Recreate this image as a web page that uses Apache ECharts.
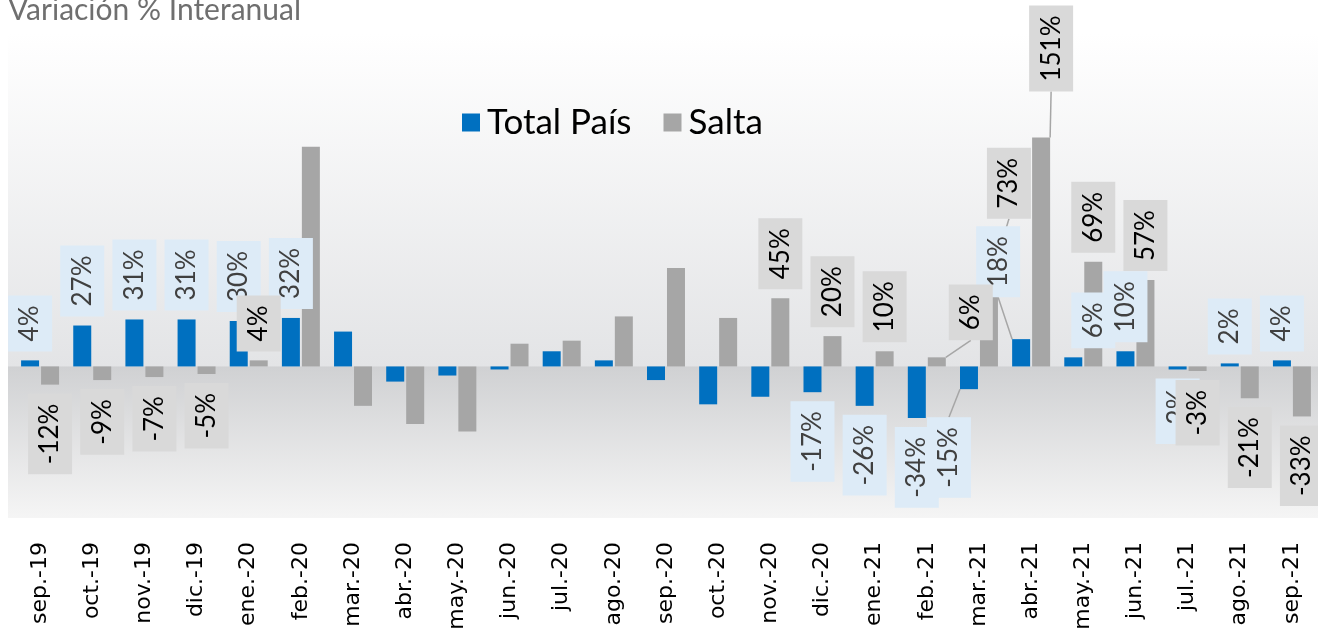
<!DOCTYPE html>
<html>
<head>
<meta charset="utf-8">
<script src="https://cdn.jsdelivr.net/npm/echarts@6/dist/echarts.min.js"></script>
<style>
    html, body { margin: 0; padding: 0; background: #fff; }
    #chart { width: 1318px; height: 635px; }
</style>
</head>
<body>
<div id="chart"></div>
<script>
var months = ['sep.-19', 'oct.-19', 'nov.-19', 'dic.-19', 'ene.-20', 'feb.-20', 'mar.-20', 'abr.-20',
    'may.-20', 'jun.-20', 'jul.-20', 'ago.-20', 'sep.-20', 'oct.-20', 'nov.-20', 'dic.-20',
    'ene.-21', 'feb.-21', 'mar.-21', 'abr.-21', 'may.-21', 'jun.-21', 'jul.-21', 'ago.-21', 'sep.-21'];

var totalPais = [4, 27, 31, 31, 30, 32, 23, -10, -6, -2, 10, 4, -9, -25, -20, -17,
    -26, -34, -15, 18, 6, 10, -2, 2, 4];
var salta = [-12, -9, -7, -5, 4, 145, -26, -38, -43, 15, 17, 33, 65, 32, 45, 20,
    10, 6, 73, 151, 69, 57, -3, -21, -33];

// months whose value is printed on the chart
var totalLabeled = ['sep.-19', 'oct.-19', 'nov.-19', 'dic.-19', 'ene.-20', 'feb.-20',
    'dic.-20', 'ene.-21', 'feb.-21', 'mar.-21', 'abr.-21', 'may.-21', 'jun.-21', 'jul.-21', 'ago.-21', 'sep.-21'];
var saltaLabeled = ['sep.-19', 'oct.-19', 'nov.-19', 'dic.-19', 'ene.-20',
    'nov.-20', 'dic.-20', 'ene.-21', 'feb.-21', 'mar.-21', 'abr.-21', 'may.-21', 'jun.-21', 'jul.-21', 'ago.-21', 'sep.-21'];

// labels moved by hand in the original: screen shift [right, down] and leader line
var moved = {
    0: { 'mar.-21': [-20, 19, true], 'abr.-21': [-23, -33, true], 'may.-21': [20, 0, false] },
    1: { 'feb.-21': [34, -8, true], 'mar.-21': [20, -28, true], 'abr.-21': [10, -37, true] }
};

function buildData(values, shown, seriesIdx) {
    return values.map(function (v, i) {
        var up = v >= 0;
        var m = moved[seriesIdx][months[i]];
        return {
            value: v,
            label: {
                show: shown.indexOf(months[i]) >= 0,
                position: up ? 'top' : 'bottom',
                align: up ? 'left' : 'right'
            },
            labelLine: { show: !!(m && m[2]) }
        };
    });
}

var labelBase = {
    rotate: 90,
    verticalAlign: 'middle',
    distance: 9,
    fontSize: 26,
    fontFamily: 'Lato',
    padding: [9, 10],
    formatter: '{c}%'
};

var chart = echarts.init(document.getElementById('chart'));

var option = {
    animation: false,
    graphic: [
        {
            type: 'rect',
            z: -10,
            shape: { x: 8, y: 33, width: 1310, height: 485 },
            style: {
                fill: new echarts.graphic.LinearGradient(0, 0, 0, 1, [
                    { offset: 0, color: '#FFFFFF' },
                    { offset: 0.686, color: '#E3E4E6' },
                    { offset: 0.689, color: '#D0D1D3' },
                    { offset: 1, color: '#F5F5F5' }
                ])
            }
        },
        {
            type: 'text',
            x: 8,
            y: -5,
            style: {
                text: 'Variación % Interanual',
                fill: '#6F6F6F',
                fontSize: 30,
                fontFamily: 'Lato'
            }
        }
    ],
    legend: {
        left: 457,
        top: 100,
        icon: 'rect',
        itemWidth: 18,
        itemHeight: 18,
        itemGap: 32,
        textStyle: { fontSize: 35, fontFamily: 'Lato', color: '#000', padding: [0, 0, 0, 2] },
        data: ['Total País', 'Salta']
    },
    grid: { left: 14, right: -8, top: 33, bottom: 117 },
    xAxis: {
        type: 'category',
        data: months,
        axisLine: { show: false, onZero: false },
        axisTick: { show: false },
        axisLabel: {
            interval: 0,
            rotate: 90,
            margin: 24,
            fontSize: 22,
            fontFamily: 'DejaVu Sans',
            color: '#000',
            padding: [6, 0, 0, 0]
        }
    },
    yAxis: {
        type: 'value',
        min: -100,
        max: 220,
        show: false,
        splitLine: { show: false }
    },
    labelLayout: function (params) {
        var m = moved[params.seriesIndex][months[params.dataIndex]];
        if (!m) return {};
        // the shift is applied in the rotated label frame
        return { dx: -m[1], dy: m[0] };
    },
    series: [
        {
            name: 'Total País',
            type: 'bar',
            barWidth: 18,
            barGap: '11%',
            itemStyle: { color: '#0070C0' },
            label: Object.assign({}, labelBase, { color: '#404040', backgroundColor: '#DDEBF7' }),
            labelLine: { lineStyle: { color: '#A6A6A6', width: 1.5 } },
            data: buildData(totalPais, totalLabeled, 0)
        },
        {
            name: 'Salta',
            type: 'bar',
            barWidth: 18,
            barGap: '11%',
            itemStyle: { color: '#A6A6A6' },
            label: Object.assign({}, labelBase, { color: '#000', backgroundColor: '#D9D9D9' }),
            labelLine: { lineStyle: { color: '#A6A6A6', width: 1.5 } },
            data: buildData(salta, saltaLabeled, 1)
        }
    ]
};

chart.setOption(option);
</script>
</body>
</html>
